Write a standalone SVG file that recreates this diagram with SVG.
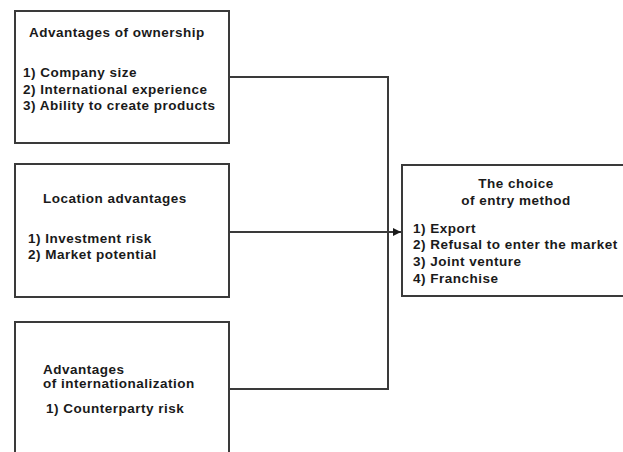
<svg xmlns="http://www.w3.org/2000/svg" width="623" height="452" viewBox="0 0 623 452">
<style>
.box{fill:#fff;stroke:#3a3a3a;stroke-width:2}
.t{font-family:"Liberation Sans",Arial,sans-serif;font-weight:bold;font-size:13.5px;letter-spacing:0.5px;fill:#1a1a1a}
.c{fill:none;stroke:#3a3a3a;stroke-width:2}
</style>
<defs>
<marker id="arr" viewBox="0 0 10 10" refX="10" refY="5" markerWidth="4" markerHeight="4" orient="auto" markerUnits="strokeWidth">
<path d="M0,0 L10,5 L0,10 z" fill="#1a1a1a"/>
</marker>
</defs>
<rect width="623" height="452" fill="#fff"/>
<g id="connectors">
<polyline class="c" points="229,77 388,77 388,389 229,389"/>
<line class="c" x1="229" y1="232" x2="401" y2="232" marker-end="url(#arr)"/>
</g>
<g id="ownership">
<rect class="box" x="15" y="11" width="214" height="132"/>
<text class="t" x="29" y="37">Advantages of ownership</text>
<text class="t" x="23" y="77">1) Company size</text>
<text class="t" x="23" y="94">2) International experience</text>
<text class="t" x="23" y="110">3) Ability to create products</text>
</g>
<g id="location">
<rect class="box" x="15" y="164" width="214" height="133"/>
<text class="t" x="43" y="203">Location advantages</text>
<text class="t" x="28" y="243">1) Investment risk</text>
<text class="t" x="28" y="259">2) Market potential</text>
</g>
<g id="internationalization">
<rect class="box" x="15" y="322" width="214" height="140"/>
<text class="t" x="43" y="374">Advantages</text>
<text class="t" x="43" y="388">of internationalization</text>
<text class="t" x="46" y="413">1) Counterparty risk</text>
</g>
<g id="entry">
<rect class="box" x="402" y="165" width="230" height="131"/>
<text class="t" x="516" y="188" text-anchor="middle">The choice</text>
<text class="t" x="516" y="205" text-anchor="middle">of entry method</text>
<text class="t" x="413" y="233">1) Export</text>
<text class="t" x="413" y="249">2) Refusal to enter the market</text>
<text class="t" x="413" y="266">3) Joint venture</text>
<text class="t" x="413" y="283">4) Franchise</text>
</g>
</svg>
